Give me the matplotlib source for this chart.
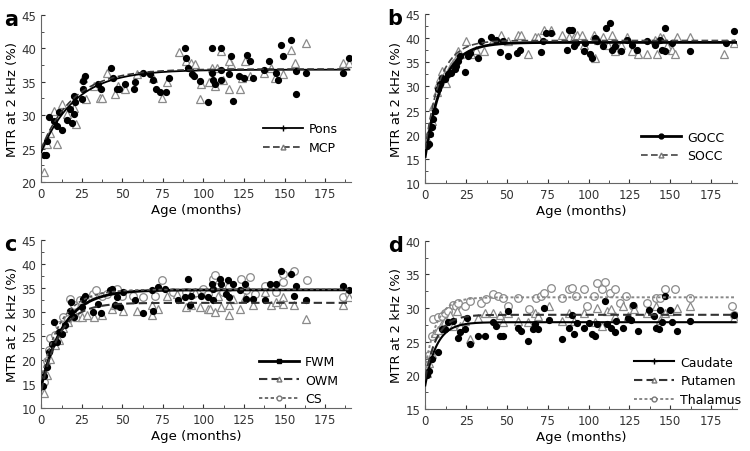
import numpy as np
import matplotlib
matplotlib.use("Agg")
import matplotlib.pyplot as plt
from matplotlib.lines import Line2D
from matplotlib.ticker import MultipleLocator

# ---- panel a: Pons / MCP ----
pons_age = [1.5, 3, 3.5, 4.5, 8, 9.5, 11, 13, 16, 18, 20, 20.5, 19, 20.7, 25, 26, 27, 26,
            35, 37, 43, 44.5, 46.5, 48, 51.5, 57, 58, 63, 67, 69, 71, 73, 77, 79, 88.5,
            89.5, 90.5, 93, 94, 98, 103, 105, 105.5, 106, 107, 111, 111, 111, 116, 117,
            118, 122, 125, 127, 128.5, 130.5, 137.5, 140.5, 145, 146, 148, 149, 154, 157,
            157, 163, 186, 190]
pons_mtr = [24.0, 24.1, 26.2, 29.8, 29.1, 28.4, 30.4, 27.8, 29.3, 30.9, 32.9, 30.1, 28.9,
            31.9, 32.4, 33.9, 35.8, 35.1, 34.6, 33.9, 37.1, 35.6, 33.9, 33.9, 34.6, 33.9,
            34.9, 36.3, 36.1, 35.3, 33.9, 33.4, 33.4, 35.6, 40.0, 38.6, 37.1, 36.1, 35.8,
            35.1, 31.9, 40.0, 36.3, 35.3, 34.6, 40.0, 36.8, 35.3, 36.1, 38.8, 32.1, 35.8,
            35.6, 39.0, 38.1, 35.6, 36.8, 38.1, 36.3, 35.3, 40.5, 38.8, 41.3, 33.1, 36.6,
            36.3, 36.3, 38.6]
mcp_age = [2, 3.5, 5.5, 8, 9.5, 12.7, 16, 20, 21.5, 25.6, 27.7, 32.8, 36.3, 37.3, 40.4,
           45.5, 47.5, 51.6, 58.8, 69, 74.6, 77.3, 84.8, 89, 92.6, 94.7, 98, 98.8, 103.5,
           105, 107, 108.4, 111, 112, 116, 117, 116, 122.4, 123.5, 125.5, 128.5, 137.5,
           141.8, 144, 149, 154, 156.5, 163, 186, 190]
mcp_mtr = [21.5, 25.7, 27.4, 30.6, 25.7, 31.6, 30.1, 31.1, 28.7, 35.6, 32.4, 34.4, 32.6,
           32.6, 36.3, 33.1, 34.4, 33.9, 36.1, 35.6, 32.6, 34.9, 39.4, 38.1, 37.8, 37.6,
           32.4, 34.6, 34.9, 37.1, 34.3, 37.1, 39.6, 35.3, 33.9, 37.6, 38.1, 33.9, 35.6,
           38.1, 35.8, 36.3, 37.1, 35.6, 36.1, 39.8, 37.8, 40.8, 37.8, 37.8]

# ---- panel b: GOCC / SOCC ----
gocc_age = [1, 2, 3, 4, 5, 6, 8, 9, 10, 12, 14, 16, 18, 19, 20, 21, 24.5, 26.3, 27.3, 32.4,
            34.4, 40.5, 43.5, 45.5, 47.5, 50.6, 56.3, 57.7, 70.9, 71.9, 73.9, 77, 87, 88,
            90, 91, 92, 97, 98, 101, 102, 104, 105, 109, 110.7, 113.4, 114.4, 116.4, 120,
            123.5, 126.5, 129.6, 135.6, 140.7, 143.7, 144.7, 146.8, 146.8, 150.8, 162, 184,
            189]
gocc_mtr = [17.7, 18.1, 20.1, 21.5, 23.2, 24.9, 29.4, 30.4, 31.8, 31.5, 32.5, 32.8, 33.5,
            34.2, 35.2, 36.2, 32.9, 36.2, 36.9, 35.9, 39.3, 40.3, 39.7, 37.1, 39.3, 36.2,
            36.9, 37.6, 37.1, 39.3, 41.0, 41.0, 37.6, 41.7, 41.7, 38.3, 39.0, 37.3, 39.0,
            36.6, 35.9, 40.0, 39.3, 38.3, 42.0, 43.1, 37.6, 38.3, 37.3, 39.7, 38.6, 37.6,
            39.3, 38.6, 39.7, 37.6, 37.3, 42.0, 39.0, 37.3, 39.0, 41.5]
socc_age = [1, 2, 4, 5, 7, 8, 9, 10, 12, 13, 16, 17, 19, 20, 21, 25, 28, 31, 36, 41.5,
            46.5, 50.6, 56.7, 58.7, 62.8, 67, 69, 72.9, 77, 84, 88, 91, 93, 96, 97, 103,
            104, 106, 109, 112, 114.4, 116.4, 120, 123.5, 126.5, 130.5, 135.6, 140.7,
            141.7, 143.7, 145.7, 147.8, 150.8, 153, 154, 162, 183, 189]
socc_mtr = [19.1, 20.5, 22.9, 26.0, 28.8, 30.5, 31.8, 33.2, 32.5, 30.8, 34.2, 34.9, 35.6,
            37.3, 36.6, 39.3, 36.6, 37.6, 37.3, 39.7, 40.7, 39.3, 40.7, 40.7, 36.6, 40.3,
            40.3, 41.7, 41.7, 40.7, 40.3, 40.3, 40.7, 40.7, 38.6, 40.7, 35.9, 39.7, 40.3,
            38.6, 40.7, 37.3, 38.6, 40.3, 37.3, 36.6, 36.6, 39.7, 36.6, 40.3, 40.0, 38.3,
            37.6, 36.6, 40.3, 40.3, 36.6, 39.0]

# ---- panel c: FWM / OWM / CS ----
fwm_age = [1, 2, 3.5, 4.5, 6.5, 8, 9.5, 10.7, 12.7, 14.8, 18, 18.2, 20, 25, 26, 27, 32,
           35.2, 37, 42.4, 43.5, 45.5, 46.5, 48.6, 50.6, 57.8, 63, 68, 69, 72.1, 76.2, 84.4,
           88.5, 90.5, 91.6, 92.6, 98.8, 102.9, 105, 106, 106, 110, 111, 114, 115, 116, 118,
           122.3, 125.4, 126.4, 130.5, 137.7, 140.8, 145, 148, 154, 156, 157.2, 163.3, 186,
           190]
fwm_mtr = [14.5, 16.6, 18.6, 21.7, 23.4, 27.9, 23.8, 25.9, 25.5, 27.2, 30.3, 32.1, 29.0,
           31.0, 32.8, 33.4, 30.0, 31.7, 29.7, 34.5, 34.8, 31.4, 33.1, 31.0, 34.1, 32.4,
           29.7, 34.5, 30.3, 35.2, 34.8, 32.4, 33.1, 36.9, 31.4, 33.4, 33.4, 33.1, 35.9,
           34.8, 32.4, 36.9, 35.9, 33.8, 36.6, 33.1, 35.9, 34.5, 35.9, 32.8, 32.8, 32.4,
           35.9, 35.9, 38.6, 37.9, 33.4, 35.5, 32.4, 35.5, 34.5]
owm_age = [2, 3.5, 5.5, 8.6, 10.7, 13.7, 16.8, 20, 22, 25, 28, 32.8, 37.3, 43.5, 45.5,
           50.6, 58.8, 68, 68, 72, 77.3, 83.4, 89.5, 92.6, 94.7, 97.7, 102.9, 103.9, 107,
           109, 111, 116, 116, 118, 122.4, 125.4, 130.5, 137.7, 141.8, 145, 149, 149, 156,
           163.3, 186, 190]
owm_mtr = [13.1, 16.9, 20.3, 23.1, 24.1, 26.6, 27.9, 29.7, 29.0, 29.0, 29.3, 29.0, 29.3,
           30.7, 31.4, 30.3, 30.3, 29.3, 31.4, 30.7, 33.4, 33.8, 31.0, 31.4, 34.1, 31.0,
           30.7, 30.7, 30.0, 33.4, 31.0, 29.3, 31.4, 32.8, 30.7, 33.1, 31.4, 34.1, 31.4,
           32.1, 33.1, 31.7, 31.4, 28.6, 31.4, 33.1]
cs_age = [2, 3.5, 4.5, 5.5, 8.6, 10.7, 13.7, 16.8, 18, 20, 24, 27, 32, 34, 37.3, 40.4,
          46.5, 49.6, 56.8, 63, 70, 74.2, 81.3, 89.5, 93.6, 99.8, 102.9, 106, 107, 108, 112,
          116, 123.4, 128.5, 126.4, 131.5, 137.7, 145, 149, 149, 156, 164, 186, 190]
cs_mtr = [15.5, 19.7, 22.1, 24.5, 25.2, 27.2, 29.0, 28.6, 32.8, 31.4, 32.4, 32.4, 33.8,
          34.5, 33.4, 33.8, 34.8, 33.4, 33.4, 33.1, 33.4, 36.6, 34.1, 34.1, 33.8, 34.8,
          33.8, 36.9, 37.6, 35.2, 34.1, 35.2, 36.9, 37.2, 34.5, 33.8, 35.5, 34.1, 36.2,
          38.0, 38.6, 36.6, 33.1, 33.8]

# ---- panel d: Caudate / Putamen / Thalamus ----
caud_age = [1, 2, 4, 8, 10, 12, 14, 17, 20, 21, 24.5, 25.3, 27.3, 32.4, 36.4, 41.5, 43.5,
            45.5, 47.5, 50.6, 56.7, 58.7, 62.8, 66, 67, 69, 73, 76, 84, 88, 90, 91, 93, 97,
            100, 102, 104, 105, 110, 111, 114, 116, 117, 121, 124, 126, 127, 130, 137, 140,
            141, 143, 144, 145, 147, 150, 151, 154, 162, 189]
caud_mtr = [20.0, 20.7, 22.5, 23.4, 26.9, 26.9, 27.9, 28.1, 25.6, 26.4, 26.9, 28.5, 24.6,
            25.9, 25.9, 27.9, 27.4, 25.9, 25.9, 29.5, 27.1, 26.6, 25.1, 26.9, 27.6, 26.9,
            30.0, 28.3, 25.4, 27.1, 29.0, 26.1, 27.8, 27.1, 27.8, 26.1, 25.9, 27.6, 31.0,
            27.6, 27.1, 26.4, 28.1, 27.1, 28.5, 28.3, 30.5, 26.6, 29.7, 28.8, 27.1, 26.9,
            29.7, 27.9, 31.8, 29.7, 27.9, 26.6, 28.1, 29.0]
put_age = [1, 2, 4, 6, 8, 10, 12, 15, 17, 19.2, 21, 24.3, 27.3, 32.4, 36.4, 41.5, 45.5,
           47.5, 50.6, 56.7, 62.8, 67, 69, 76, 84, 88, 91, 97, 104, 105, 108, 111, 114, 116,
           121, 124, 128, 136, 141, 144, 147, 150, 154, 162, 189]
put_mtr = [20.4, 21.9, 23.1, 26.3, 26.8, 27.6, 28.1, 28.9, 27.4, 29.5, 27.4, 28.1, 25.4,
           28.5, 29.3, 29.3, 29.0, 27.9, 29.3, 28.1, 27.9, 29.3, 28.8, 30.3, 28.1, 29.3,
           28.1, 29.3, 27.9, 30.0, 27.4, 29.5, 29.8, 28.8, 30.3, 28.8, 29.8, 29.3, 30.3,
           28.3, 29.3, 29.5, 30.0, 30.3, 28.5]
thal_age = [1, 2, 4, 5, 8, 10, 12, 14, 17, 19, 20, 24.3, 27.3, 34.4, 37.4, 41.5, 44.5, 47.5,
            50.6, 56.7, 63.8, 68, 71, 73, 77, 84, 88, 90, 92, 97, 99, 103, 105, 108, 110,
            113, 116, 119, 123, 127, 136, 141, 144, 147, 153, 162, 188, 189]
thal_mtr = [21.5, 23.0, 25.9, 28.4, 28.6, 28.8, 29.3, 29.5, 30.5, 30.3, 30.8, 30.3, 31.0,
            30.8, 31.3, 32.1, 31.8, 31.5, 30.3, 31.5, 29.8, 31.5, 31.8, 32.3, 33.0, 31.5,
            32.8, 33.0, 31.8, 32.8, 30.3, 31.8, 33.7, 32.8, 33.9, 32.3, 32.8, 30.8, 31.8,
            30.3, 30.8, 31.5, 31.5, 32.8, 32.8, 31.5, 30.3, 29.0]

# exponential fit parameters: plateau, value at birth, time constant
fit_plateau = {"Pons": 36.8, "MCP": 36.9, "GOCC": 39.1, "SOCC": 39.5, "FWM": 34.6,
               "OWM": 31.9, "CS": 34.7, "Caudate": 27.9, "Putamen": 29.0, "Thalamus": 31.6}
fit_start = {"Pons": 24.5, "MCP": 25.0, "GOCC": 15.5, "SOCC": 17.0, "FWM": 14.5,
             "OWM": 13.5, "CS": 16.0, "Caudate": 18.5, "Putamen": 19.5, "Thalamus": 21.0}
fit_tau = {"Pons": 21.0, "MCP": 20.0, "GOCC": 10.5, "SOCC": 9.0, "FWM": 14.0,
           "OWM": 11.0, "CS": 12.0, "Caudate": 7.0, "Putamen": 7.0, "Thalamus": 7.0}

filled = dict(marker="o", ms=4.2, mfc="black", mec="black", ls="none")
tri = dict(marker="^", ms=5.5, mfc="white", mec="#8a8a8a", mew=0.9, ls="none")
circ = dict(marker="o", ms=5.5, mfc="white", mec="#8a8a8a", mew=0.9, ls="none")

styles = {
    "Pons": dict(color="black", ls="-", lw=1.3, hm="+", hmfc="black"),
    "MCP": dict(color="#333333", ls=(0, (4, 2)), lw=1.2, hm="^", hmfc="white"),
    "GOCC": dict(color="black", ls="-", lw=2.0, hm="o", hmfc="black"),
    "SOCC": dict(color="#444444", ls=(0, (4, 2)), lw=1.2, hm="^", hmfc="white"),
    "FWM": dict(color="black", ls="-", lw=2.0, hm="s", hmfc="black"),
    "OWM": dict(color="#333333", ls=(0, (4, 2)), lw=1.5, hm="^", hmfc="white"),
    "CS": dict(color="#555555", ls=(0, (2, 1.5)), lw=1.2, hm="o", hmfc="white"),
    "Caudate": dict(color="black", ls="-", lw=1.5, hm="+", hmfc="black"),
    "Putamen": dict(color="#333333", ls=(0, (4, 2)), lw=1.5, hm="^", hmfc="white"),
    "Thalamus": dict(color="#888888", ls=(0, (1.5, 1.2)), lw=1.4, hm="o", hmfc="white"),
}

panels = [
    ("a", [("Pons", pons_age, pons_mtr, filled), ("MCP", mcp_age, mcp_mtr, tri)], (20, 45),
     [0.055, 0.595, 0.413, 0.370], (0.995, 0.10)),
    ("b", [("GOCC", gocc_age, gocc_mtr, filled), ("SOCC", socc_age, socc_mtr, tri)], (10, 45),
     [0.567, 0.593, 0.416, 0.374], (0.995, 0.055)),
    ("c", [("FWM", fwm_age, fwm_mtr, filled), ("OWM", owm_age, owm_mtr, tri),
           ("CS", cs_age, cs_mtr, circ)], (10, 45),
     [0.055, 0.095, 0.413, 0.372], (0.995, -0.05)),
    ("d", [("Caudate", caud_age, caud_mtr, filled), ("Putamen", put_age, put_mtr, tri),
           ("Thalamus", thal_age, thal_mtr, circ)], (15, 40),
     [0.567, 0.093, 0.416, 0.372], (1.05, -0.05)),
]

fig = plt.figure(figsize=(7.5, 4.52), dpi=100)
xs = np.linspace(0, 190, 400)

for letter, series, ylim, rect, leg_anchor in panels:
    ax = fig.add_axes(rect)
    # open markers first, filled circles drawn over them
    for name, age, mtr, mk in series[::-1]:
        ax.plot(age, mtr, zorder=2, **mk)
    handles = []
    for name, age, mtr, mk in series:
        st = styles[name]
        fit = fit_plateau[name] - (fit_plateau[name] - fit_start[name]) * np.exp(-xs / fit_tau[name])
        ax.plot(xs, fit, color=st["color"], ls=st["ls"], lw=st["lw"], zorder=3)
        handles.append(Line2D([], [], color=st["color"], ls=st["ls"], lw=st["lw"],
                              marker=st["hm"], ms=3.5 if st["hm"] != "+" else 5,
                              mfc=st["hmfc"], mec="black" if st["hmfc"] == "black" else "#777777",
                              mew=1.0))
    ax.legend(handles, [s[0] for s in series], loc="lower right", bbox_to_anchor=leg_anchor,
              frameon=False, fontsize=9, handlelength=3.2, labelspacing=0.45, handletextpad=0.5)

    ax.set_xlim(0, 191)
    ax.set_ylim(*ylim)
    ax.set_xticks([0, 25, 50, 75, 100, 125, 150, 175])
    ax.set_yticks(np.arange(ylim[0], ylim[1] + 1, 5))
    ax.xaxis.set_minor_locator(MultipleLocator(12.5))
    ax.yaxis.set_minor_locator(MultipleLocator(2.5))
    ax.tick_params(which="both", direction="in", labelsize=8.5, colors="#333333")
    ax.tick_params(which="major", length=3)
    ax.tick_params(which="minor", length=2)
    for side in ["top", "right"]:
        ax.spines[side].set_visible(False)
    for side in ["left", "bottom"]:
        ax.spines[side].set_color("#666666")
    ax.set_xlabel("Age (months)", fontsize=9.5, labelpad=2)
    ax.set_ylabel("MTR at 2 kHz (%)", fontsize=9.5, labelpad=2)
    fig.text(rect[0] - 0.05, rect[1] + rect[3] + 0.012, letter, fontsize=15,
             fontweight="bold", va="top", ha="left")

fig.savefig("out.png", dpi=100)
